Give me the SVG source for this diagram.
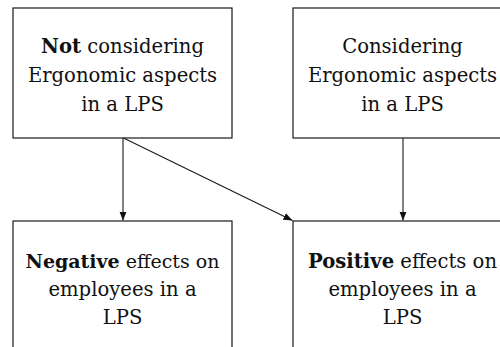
<svg xmlns="http://www.w3.org/2000/svg" width="500" height="347" viewBox="0 0 500 347">
  <style>
    .box { fill: #ffffff; stroke: #1a1a1a; stroke-width: 1.2; }
    .lbl { font-family: "DejaVu Serif", "Liberation Serif", serif; font-size: 19.6px; fill: #111111; text-anchor: middle; }
    .lbl.tight { font-size: 19px; }
    .lbl .b { font-weight: bold; }
    .edge { fill: none; stroke: #1a1a1a; stroke-width: 1.1; marker-end: url(#arrow); }
  </style>
  <defs>
    <marker id="arrow" viewBox="0 0 10 10" refX="10" refY="5" markerWidth="9" markerHeight="9" markerUnits="userSpaceOnUse" orient="auto">
      <path d="M0,1 L10,5 L0,9 Z" fill="#111111"/>
    </marker>
  </defs>
  <rect width="500" height="347" fill="#ffffff"/>

  <g id="not-considering">
    <rect class="box" x="13" y="8" width="219" height="130"/>
    <text class="lbl" x="122.5" y="53"><tspan class="b">Not</tspan> considering</text>
    <text class="lbl" x="122.5" y="81.5">Ergonomic aspects</text>
    <text class="lbl" x="122.5" y="110.5">in a LPS</text>
  </g>

  <g id="considering">
    <rect class="box" x="293" y="8" width="219" height="130"/>
    <text class="lbl" x="402.5" y="53">Considering</text>
    <text class="lbl" x="402.5" y="81.5">Ergonomic aspects</text>
    <text class="lbl" x="402.5" y="110.5">in a LPS</text>
  </g>

  <g id="negative-effects">
    <rect class="box" x="13" y="221" width="219" height="140"/>
    <text class="lbl tight" x="122.5" y="268"><tspan class="b">Negative</tspan> effects on</text>
    <text class="lbl" x="122.5" y="296">employees in a</text>
    <text class="lbl" x="122.5" y="324">LPS</text>
  </g>

  <g id="positive-effects">
    <rect class="box" x="293" y="221" width="219" height="140"/>
    <text class="lbl" x="402.5" y="268"><tspan class="b">Positive</tspan> effects on</text>
    <text class="lbl" x="402.5" y="296">employees in a</text>
    <text class="lbl" x="402.5" y="324">LPS</text>
  </g>

  <g id="connectors">
    <line class="edge" x1="123" y1="138" x2="123" y2="220.5"/>
    <line class="edge" x1="123.5" y1="138" x2="292.5" y2="220.5"/>
    <line class="edge" x1="403" y1="138" x2="403" y2="220.5"/>
  </g>
</svg>
